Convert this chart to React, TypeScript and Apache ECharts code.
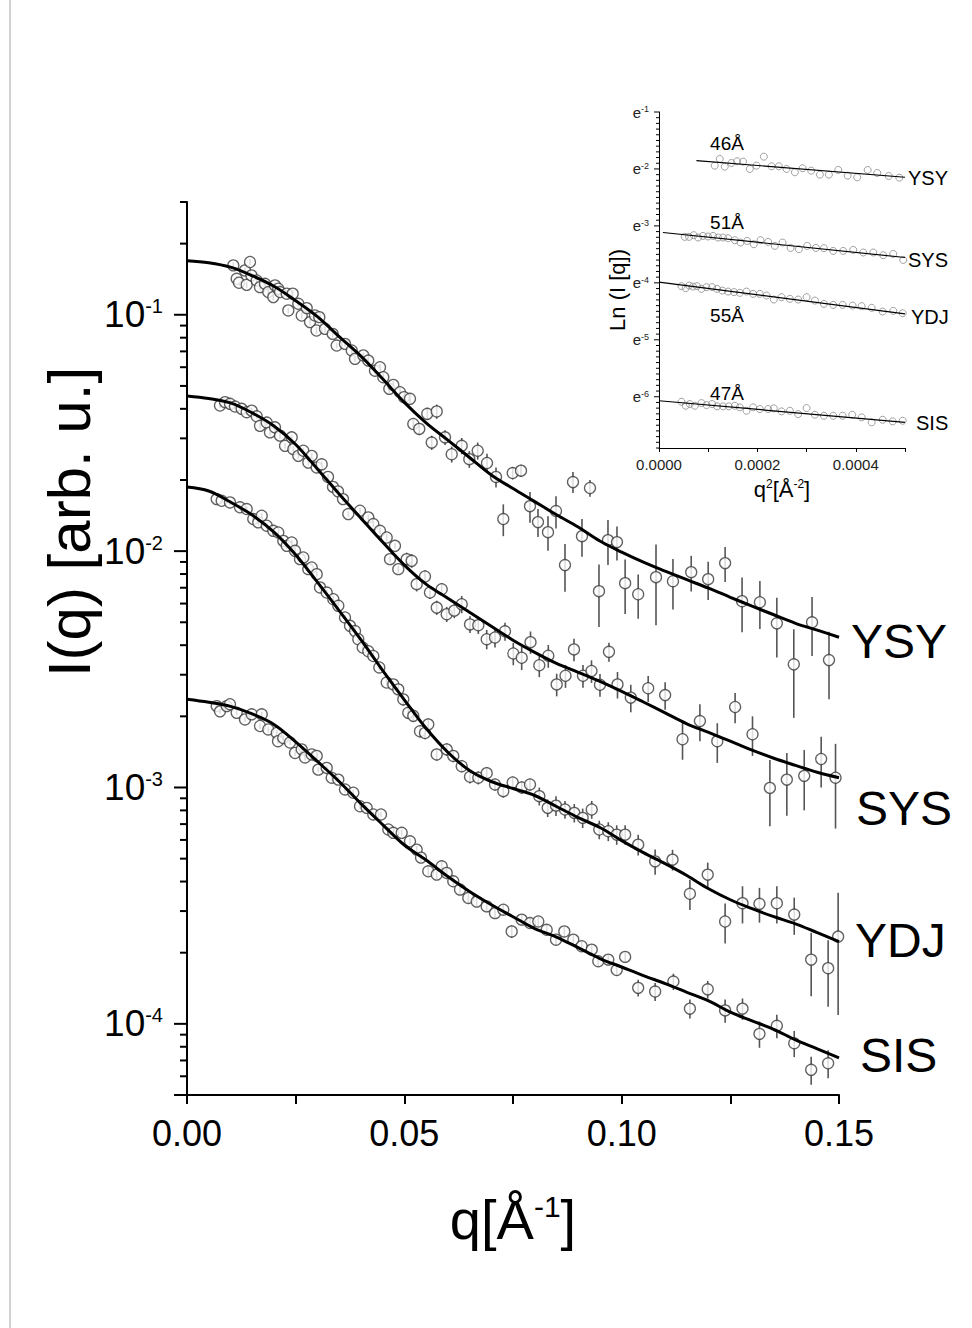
import React, { useEffect, useRef } from 'react';
import * as echarts from 'echarts';

const FONT = '"Liberation Sans", Arial, Helvetica, sans-serif';

// ---------- main plot: fitted curves (q in 1/Å, I in arb. u.) ----------
const fitQ = [0, 0.005, 0.01, 0.015, 0.02, 0.025, 0.03, 0.035, 0.04, 0.045, 0.05, 0.055, 0.06, 0.065, 0.07, 0.075, 0.08, 0.085, 0.09, 0.095, 0.1, 0.105, 0.11, 0.115, 0.12, 0.125, 0.13, 0.135, 0.14, 0.145, 0.15];
const ysyFit = [0.1694, 0.1661, 0.159, 0.1463, 0.132, 0.1147, 0.0982, 0.0809, 0.0668, 0.0536, 0.0426, 0.0349, 0.0295, 0.0249, 0.021, 0.0184, 0.0162, 0.01425, 0.01264, 0.01103, 0.0099, 0.00898, 0.00823, 0.00757, 0.00697, 0.00638, 0.00585, 0.00538, 0.00495, 0.00463, 0.00432];
const sysFit = [0.04537, 0.04427, 0.04236, 0.03843, 0.03385, 0.02827, 0.02226, 0.01744, 0.01379, 0.01092, 0.00873, 0.00725, 0.00632, 0.00551, 0.00481, 0.0042, 0.00373, 0.00335, 0.00307, 0.00281, 0.00255, 0.0023, 0.00207, 0.00186, 0.00171, 0.00157, 0.00144, 0.00133, 0.00124, 0.00116, 0.0011];
const ydjFit = [0.01866, 0.01796, 0.01613, 0.01421, 0.01204, 0.00966, 0.00739, 0.0056, 0.00422, 0.00313, 0.00235, 0.00178, 0.00141, 0.00118, 0.00106, 0.00099, 0.000925, 0.000831, 0.000746, 0.000677, 0.000596, 0.00053, 0.000476, 0.000424, 0.000373, 0.000335, 0.000307, 0.000284, 0.000265, 0.000243, 0.000223];
const sisFit = [0.00236, 0.002292, 0.002204, 0.002048, 0.001849, 0.001559, 0.001289, 0.00106, 0.000855, 0.000697, 0.000571, 0.000493, 0.00042, 0.000363, 0.000319, 0.000284, 0.000253, 0.000233, 0.00021, 0.000189, 0.000174, 0.00016, 0.000148, 0.000136, 0.000125, 0.000112, 0.000103, 0.0000948, 0.0000855, 0.0000784, 0.0000718];

// ---------- main plot: measured points [q, I, sigma] ----------
const ysyPoints = [
  [0.01065, 0.1618, 0.005], [0.01143, 0.142, 0.004], [0.01196, 0.1366, 0.004], [0.01334, 0.154, 0.005], [0.01373, 0.1339, 0.004],
  [0.0145, 0.1672, 0.005], [0.01484, 0.1467, 0.004], [0.01604, 0.1397, 0.004], [0.01679, 0.1309, 0.004], [0.01794, 0.1352, 0.004],
  [0.0187, 0.1248, 0.004], [0.01985, 0.1188, 0.004], [0.02024, 0.1331, 0.004], [0.021, 0.1289, 0.004], [0.0214, 0.1248, 0.004],
  [0.02294, 0.1228, 0.004], [0.02331, 0.1043, 0.003], [0.02432, 0.1228, 0.004], [0.02561, 0.1113, 0.003], [0.02639, 0.0993, 0.003],
  [0.02754, 0.1067, 0.003], [0.0283, 0.0931, 0.003], [0.02945, 0.0993, 0.003], [0.02979, 0.0858, 0.003], [0.03044, 0.0977, 0.003],
  [0.03175, 0.0872, 0.003], [0.03352, 0.083, 0.003], [0.03444, 0.0741, 0.002], [0.03635, 0.0753, 0.002], [0.0379, 0.0706, 0.002],
  [0.03865, 0.0651, 0.002], [0.04056, 0.0673, 0.002], [0.04171, 0.064, 0.002], [0.04325, 0.058, 0.002], [0.0444, 0.06, 0.002],
  [0.04516, 0.0544, 0.002], [0.04654, 0.0486, 0.002], [0.04746, 0.0505, 0.002], [0.049, 0.047, 0.002], [0.04992, 0.0448, 0.002],
  [0.0513, 0.0441, 0.002], [0.05206, 0.0345, 0.0017], [0.05344, 0.0329, 0.002], [0.05528, 0.0381, 0.0023], [0.0563, 0.0288, 0.002],
  [0.05745, 0.039, 0.0027], [0.05936, 0.0303, 0.0022], [0.0609, 0.0257, 0.002], [0.0632, 0.0279, 0.0022], [0.06495, 0.0245, 0.002],
  [0.06688, 0.0266, 0.0022], [0.06902, 0.0236, 0.0022], [0.07109, 0.0206, 0.002], [0.07277, 0.01367, 0.0021], [0.07493, 0.0214, 0.0013],
  [0.07684, 0.0219, 0.0013], [0.07891, 0.0155, 0.0023], [0.08075, 0.01327, 0.0018], [0.08305, 0.01203, 0.002], [0.08489, 0.01478, 0.0023],
  [0.08696, 0.00873, 0.002], [0.0888, 0.0196, 0.002], [0.09087, 0.01157, 0.0021], [0.09271, 0.0185, 0.0015], [0.09478, 0.00677, 0.002],
  [0.09685, 0.01113, 0.0024], [0.09892, 0.01092, 0.0018], [0.1008, 0.00732, 0.0019], [0.1038, 0.00657, 0.0014], [0.1079, 0.00776, 0.0029],
  [0.1118, 0.00746, 0.0018], [0.116, 0.00815, 0.0014], [0.1199, 0.00761, 0.0014], [0.1238, 0.0089, 0.0015], [0.1277, 0.00614, 0.0016],
  [0.1318, 0.00608, 0.0014], [0.1357, 0.00495, 0.0014], [0.1396, 0.00332, 0.00135], [0.1438, 0.005, 0.0014], [0.1477, 0.00346, 0.0011],
];
const sysPoints = [
  [0.00759, 0.0413, 0.001], [0.00874, 0.0427, 0.001], [0.00989, 0.042, 0.001], [0.01104, 0.0409, 0.001], [0.01258, 0.04, 0.001],
  [0.01373, 0.0387, 0.001], [0.01488, 0.0393, 0.001], [0.01604, 0.0372, 0.001], [0.01679, 0.0339, 0.001], [0.01834, 0.035, 0.001],
  [0.01909, 0.0318, 0.001], [0.02024, 0.0334, 0.001], [0.0214, 0.0308, 0.001], [0.02255, 0.0279, 0.0008], [0.02409, 0.0303, 0.0008],
  [0.02447, 0.027, 0.0008], [0.02561, 0.0253, 0.0008], [0.02676, 0.0266, 0.0008], [0.02791, 0.0237, 0.0007], [0.02869, 0.0253, 0.0007],
  [0.02984, 0.0226, 0.0007], [0.03099, 0.0233, 0.0007], [0.03244, 0.0206, 0.0006], [0.03359, 0.0187, 0.0006], [0.03474, 0.0179, 0.0005],
  [0.03589, 0.0166, 0.0005], [0.03711, 0.01435, 0.0004], [0.0398, 0.01482, 0.0004], [0.04171, 0.01389, 0.0004], [0.04286, 0.01302, 0.0004],
  [0.0444, 0.01219, 0.0004], [0.04594, 0.01142, 0.0004], [0.0467, 0.00925, 0.0003], [0.04785, 0.01053, 0.0003], [0.04861, 0.00839, 0.0003],
  [0.05054, 0.00925, 0.0006], [0.05169, 0.0091, 0.0006], [0.05284, 0.00725, 0.0005], [0.05475, 0.00781, 0.0005], [0.0559, 0.00668, 0.0004],
  [0.05745, 0.00577, 0.0004], [0.0586, 0.0069, 0.0004], [0.05975, 0.00541, 0.0004], [0.0615, 0.0056, 0.0004], [0.0632, 0.00596, 0.0005],
  [0.06511, 0.0049, 0.0004], [0.06702, 0.00486, 0.0004], [0.06895, 0.00424, 0.0004], [0.07086, 0.00431, 0.0004], [0.07316, 0.00458, 0.0004],
  [0.07507, 0.00369, 0.0004], [0.077, 0.00354, 0.0004], [0.07903, 0.00412, 0.00045], [0.08105, 0.00329, 0.00036], [0.08312, 0.00361, 0.0004],
  [0.08505, 0.00273, 0.0003], [0.08708, 0.00297, 0.00033], [0.08903, 0.00384, 0.00042], [0.0911, 0.00297, 0.00033], [0.09306, 0.00311, 0.00034],
  [0.09501, 0.00272, 0.0003], [0.09708, 0.00375, 0.00035], [0.09904, 0.00273, 0.00035], [0.1021, 0.0024, 0.00032], [0.1061, 0.00263, 0.00033],
  [0.11, 0.00246, 0.00033], [0.114, 0.0016, 0.00029], [0.118, 0.00191, 0.00034], [0.122, 0.00157, 0.0003], [0.1261, 0.00219, 0.00032],
  [0.1301, 0.00168, 0.00032], [0.1341, 0.000996, 0.00031], [0.138, 0.00108, 0.00032], [0.142, 0.00112, 0.00032], [0.1459, 0.00132, 0.00032],
  [0.1492, 0.0011, 0.00043],
];
const ydjPoints = [
  [0.00683, 0.0166, 0.0004], [0.00798, 0.01633, 0.0004], [0.00989, 0.01607, 0.0004], [0.01219, 0.01533, 0.0004], [0.01373, 0.01507, 0.0004],
  [0.01525, 0.01367, 0.0004], [0.0164, 0.01323, 0.0004], [0.01719, 0.01412, 0.0004], [0.01834, 0.01281, 0.0004], [0.01985, 0.01219, 0.0003],
  [0.021, 0.01199, 0.0003], [0.02216, 0.01105, 0.0003], [0.02294, 0.01053, 0.0003], [0.02409, 0.01088, 0.0003], [0.02485, 0.01003, 0.0003],
  [0.026, 0.00925, 0.0003], [0.02676, 0.0094, 0.0003], [0.02791, 0.00839, 0.0003], [0.02869, 0.00853, 0.0003], [0.02984, 0.00799, 0.0002],
  [0.0306, 0.00702, 0.0002], [0.03214, 0.00668, 0.0002], [0.03366, 0.00626, 0.0002], [0.03481, 0.00587, 0.0002], [0.03635, 0.00524, 0.00015],
  [0.0375, 0.00483, 0.00015], [0.03865, 0.00459, 0.00015], [0.03941, 0.00424, 0.00013], [0.04042, 0.00391, 0.00012], [0.04171, 0.00377, 0.00012],
  [0.04286, 0.0036, 0.00011], [0.04424, 0.00322, 0.0001], [0.04594, 0.00278, 0.00009], [0.04746, 0.00273, 0.00009], [0.04861, 0.0026, 0.00008],
  [0.04976, 0.00236, 0.00014], [0.05091, 0.00207, 0.00012], [0.05206, 0.00201, 0.00012], [0.0536, 0.00173, 0.0001], [0.05475, 0.0017, 0.0001],
  [0.05551, 0.00185, 0.00011], [0.05745, 0.00138, 0.00008], [0.05975, 0.00145, 0.00009], [0.06126, 0.00136, 0.00008], [0.0632, 0.00123, 0.00007],
  [0.06511, 0.00111, 0.00007], [0.06702, 0.0011, 0.00007], [0.06895, 0.00115, 0.00007], [0.07086, 0.00103, 0.00006], [0.07277, 0.000965, 0.00006],
  [0.07493, 0.00105, 0.00006], [0.077, 0.001, 0.00006], [0.07891, 0.00103, 0.00006], [0.08105, 0.000919, 0.00008], [0.08298, 0.00082, 0.00007],
  [0.08489, 0.000838, 0.00008], [0.08696, 0.000807, 0.00007], [0.0891, 0.000781, 0.00007], [0.09103, 0.000744, 0.00007], [0.09311, 0.000807, 0.00007],
  [0.09485, 0.000664, 0.00006], [0.09692, 0.000653, 0.00006], [0.09886, 0.000632, 0.00006], [0.1008, 0.000632, 0.00006], [0.1038, 0.000573, 0.000058],
  [0.1077, 0.000487, 0.00006], [0.1117, 0.000495, 0.00005], [0.1157, 0.000355, 0.000052], [0.1198, 0.000428, 0.000053], [0.1238, 0.000271, 0.000052],
  [0.1278, 0.000324, 0.000058], [0.1317, 0.000322, 0.000054], [0.1357, 0.000324, 0.000058], [0.1397, 0.00029, 0.000052], [0.1436, 0.000187, 0.000056],
  [0.1475, 0.000172, 0.000054], [0.1498, 0.000234, 0.000125],
];
const sisPoints = [
  [0.00683, 0.00221, 0.00005], [0.00759, 0.0021, 0.00005], [0.00913, 0.00221, 0.00005], [0.00989, 0.00225, 0.00005], [0.01143, 0.00207, 0.00005],
  [0.01334, 0.00194, 0.00005], [0.01488, 0.00204, 0.00005], [0.01679, 0.00182, 0.00005], [0.01719, 0.00204, 0.00005], [0.0187, 0.00176, 0.00005],
  [0.02064, 0.0017, 0.00005], [0.02094, 0.00157, 0.00004], [0.02215, 0.00162, 0.00004], [0.0237, 0.00155, 0.00004], [0.02485, 0.0014, 0.00004],
  [0.02639, 0.00145, 0.00004], [0.02715, 0.00134, 0.00004], [0.02869, 0.00138, 0.00004], [0.02984, 0.00136, 0.00004], [0.03021, 0.00119, 0.00003],
  [0.03214, 0.00121, 0.00003], [0.03329, 0.0011, 0.00003], [0.03481, 0.00108, 0.00003], [0.03635, 0.000981, 0.00003], [0.03826, 0.00095, 0.00003],
  [0.0398, 0.000833, 0.00002], [0.04134, 0.00082, 0.00002], [0.04286, 0.000769, 0.00002], [0.04463, 0.000769, 0.00002], [0.04631, 0.000664, 0.00002],
  [0.04746, 0.000643, 0.00002], [0.04939, 0.000643, 0.00002], [0.0513, 0.000592, 0.00002], [0.05284, 0.000546, 0.00002], [0.05383, 0.000505, 0.00002],
  [0.05551, 0.000442, 0.00002], [0.05745, 0.000428, 0.00002], [0.0586, 0.000464, 0.00002], [0.05975, 0.000435, 0.00002], [0.06126, 0.000401, 0.00002],
  [0.06281, 0.00037, 0.000018], [0.06472, 0.000341, 0.000017], [0.06665, 0.000329, 0.000016], [0.06895, 0.000314, 0.000016], [0.07086, 0.000294, 0.000015],
  [0.07277, 0.000304, 0.000015], [0.0747, 0.000246, 0.000015], [0.077, 0.000276, 0.000014], [0.07891, 0.000267, 0.000013], [0.08082, 0.000271, 0.000014],
  [0.08275, 0.00025, 0.000013], [0.08489, 0.000227, 0.000011], [0.0868, 0.000246, 0.000012], [0.08887, 0.000227, 0.000011], [0.0908, 0.000213, 0.000011],
  [0.09311, 0.000206, 0.00001], [0.09462, 0.000184, 0.00001], [0.09692, 0.000187, 0.00001], [0.09886, 0.000169, 0.000009], [0.1008, 0.000192, 0.00001],
  [0.1038, 0.000142, 0.0000115], [0.1077, 0.000137, 0.000012], [0.1119, 0.000151, 0.000012], [0.1157, 0.000116, 0.0000107], [0.1198, 0.00014, 0.000012],
  [0.1238, 0.000114, 0.0000129], [0.1278, 0.000116, 0.000012], [0.1317, 0.0000907, 0.0000115], [0.1357, 0.0000981, 0.0000111], [0.1397, 0.0000828, 0.0000105],
  [0.1436, 0.0000639, 0.0000086], [0.1475, 0.0000681, 0.0000092],
];

// ---------- inset: Guinier plot [q^2, ln I] ----------
const insetYsyPoints = [[0.0001133, -1.942], [0.0001235, -1.824], [0.0001337, -1.96], [0.0001473, -1.895], [0.0001587, -1.865], [0.0001709, -1.872], [0.0001846, -2.0], [0.0001982, -1.942], [0.0002131, -1.784], [0.0002287, -1.953], [0.0002436, -1.953], [0.0002593, -2.0], [0.0002762, -2.058], [0.0002918, -1.988], [0.0003093, -2.03], [0.000327, -2.1], [0.0003453, -2.1], [0.0003643, -2.018], [0.0003834, -2.118], [0.0004029, -2.146], [0.0004241, -2.018], [0.0004436, -2.07], [0.0004668, -2.123], [0.0004884, -2.153]];
const insetSysPoints = [[0.0000523, -3.193], [0.0000611, -3.193], [0.0000706, -3.163], [0.0000794, -3.204], [0.0000895, -3.176], [0.0000997, -3.186], [0.0001099, -3.176], [0.0001201, -3.204], [0.0001302, -3.204], [0.0001404, -3.216], [0.0001541, -3.251], [0.0001656, -3.292], [0.0001791, -3.264], [0.0001927, -3.322], [0.0002063, -3.251], [0.0002218, -3.281], [0.0002355, -3.351], [0.0002511, -3.292], [0.0002674, -3.387], [0.0002843, -3.409], [0.0003012, -3.351], [0.0003189, -3.387], [0.0003352, -3.392], [0.0003541, -3.439], [0.0003744, -3.439], [0.0003948, -3.422], [0.0004151, -3.467], [0.0004355, -3.467], [0.0004558, -3.515], [0.0004762, -3.492], [0.0004965, -3.598]];
const insetYdjPoints = [[0.0000456, -4.058], [0.0000543, -4.093], [0.0000611, -4.047], [0.0000692, -4.065], [0.0000773, -4.058], [0.0000863, -4.105], [0.0000965, -4.076], [0.0001079, -4.076], [0.000118, -4.105], [0.000129, -4.135], [0.0001404, -4.153], [0.0001526, -4.163], [0.0001642, -4.176], [0.0001779, -4.153], [0.0001913, -4.193], [0.0002049, -4.193], [0.0002186, -4.223], [0.0002334, -4.293], [0.0002491, -4.251], [0.000266, -4.281], [0.0002829, -4.293], [0.0003, -4.251], [0.0003169, -4.311], [0.0003352, -4.369], [0.0003541, -4.387], [0.0003732, -4.387], [0.0003936, -4.399], [0.0004119, -4.409], [0.0004322, -4.439], [0.0004546, -4.504], [0.0004762, -4.492], [0.0004953, -4.533]];
const insetSisPoints = [[0.0000456, -6.088], [0.0000543, -6.158], [0.0000625, -6.128], [0.0000727, -6.158], [0.0000863, -6.111], [0.0000965, -6.146], [0.0001079, -6.128], [0.000118, -6.169], [0.0001302, -6.169], [0.0001418, -6.169], [0.0001541, -6.158], [0.0001642, -6.186], [0.0001779, -6.246], [0.0001913, -6.186], [0.0002049, -6.216], [0.0002218, -6.216], [0.0002334, -6.204], [0.0002491, -6.257], [0.000266, -6.246], [0.0002829, -6.304], [0.0003, -6.199], [0.0003169, -6.316], [0.0003352, -6.334], [0.0003541, -6.334], [0.0003732, -6.334], [0.0003928, -6.316], [0.0004119, -6.362], [0.0004322, -6.45], [0.0004546, -6.404], [0.000475, -6.432], [0.0004953, -6.422]];
const insetYsyFit = [[0.0000761, -1.854], [0.0005, -2.146]];
const insetSysFit = [[0.000008, -3.116], [0.0005, -3.555]];
const insetYdjFit = [[0.0, -3.988], [0.0005, -4.545]];
const insetSisFit = [[0.0, -6.07], [0.0005, -6.45]];

const sampleNames = ['YSY', 'SYS', 'YDJ', 'SIS'];
const radiusLabels = ['46Å', '51Å', '55Å', '47Å'];

// axis tick definitions
const mainYMin = 5e-5;
const mainYMax = 0.3;
const mainMajorTicks = [5e-5, 1e-4, 1e-3, 1e-2, 1e-1];
const mainMinorMantissas = [2, 3, 4, 5, 6, 7, 8, 9];
const mainDecades = [-5, -4, -3, -2, -1];
const insetYMin = -6.9;
const insetYMax = -1;
const insetMajorTicks = [-6, -5, -4, -3, -2, -1];

function buildMainTicks() {
  const out: number[][] = mainMajorTicks.map((v) => [0, v, 1]);
  mainDecades.forEach((e) => {
    mainMinorMantissas.forEach((m) => {
      const v = m * Math.pow(10, e);
      if (v > mainYMin * 1.001 && v <= mainYMax * 1.001) out.push([0, v, 0]);
    });
  });
  return out;
}
function buildInsetTicks() {
  const out: number[][] = insetMajorTicks.map((v) => [0, v, 1]);
  for (let i = -69; i <= -10; i++) {
    if (i % 10 !== 0) out.push([0, i / 10, 0]);
  }
  return out;
}

export default function App() {
  const ref = useRef<HTMLDivElement>(null);
  useEffect(() => {
    if (!ref.current) return;
    const chart = echarts.init(ref.current, undefined, { renderer: 'svg' });

    const pointSets = [ysyPoints, sysPoints, ydjPoints, sisPoints];
    const fitSets = [ysyFit, sysFit, ydjFit, sisFit];
    const insetPointSets = [insetYsyPoints, insetSysPoints, insetYdjPoints, insetSisPoints];
    const insetFitSets = [insetYsyFit, insetSysFit, insetYdjFit, insetSisFit];

    const series: any[] = [];
    pointSets.forEach((pts, i) => {
      series.push({
        type: 'custom',
        name: sampleNames[i] + ' err',
        xAxisIndex: 0,
        yAxisIndex: 0,
        data: pts,
        encode: { x: 0, y: 1 },
        z: 2,
        silent: true,
        renderItem: (params: any, api: any) => {
          const q = api.value(0);
          const v = api.value(1);
          const s = api.value(2);
          const top = api.coord([q, Math.min(v + s, mainYMax)]);
          const bot = api.coord([q, Math.max(v - s, mainYMin)]);
          return {
            type: 'line',
            shape: { x1: top[0], y1: top[1], x2: bot[0], y2: bot[1] },
            style: { stroke: '#555', lineWidth: 1.6 },
          };
        },
      });
      series.push({
        type: 'scatter',
        name: sampleNames[i],
        xAxisIndex: 0,
        yAxisIndex: 0,
        data: pts.map((p) => [p[0], p[1]]),
        symbol: 'circle',
        symbolSize: 11,
        itemStyle: { color: '#fff', borderColor: '#3a3a3a', borderWidth: 1.3 },
        z: 3,
        silent: true,
      });
      series.push({
        type: 'line',
        name: sampleNames[i] + ' fit',
        xAxisIndex: 0,
        yAxisIndex: 0,
        data: fitQ.map((q, k) => [q, fitSets[i][k]]),
        showSymbol: false,
        symbol: 'none',
        smooth: 0.35,
        lineStyle: { color: '#000', width: 3 },
        z: 4,
        silent: true,
      });
    });

    series.push({
      type: 'custom',
      name: 'main y ticks',
      xAxisIndex: 0,
      yAxisIndex: 0,
      data: buildMainTicks(),
      encode: { x: 0, y: 1 },
      clip: false,
      silent: true,
      z: 5,
      renderItem: (params: any, api: any) => {
        const p = api.coord([0, api.value(1)]);
        const len = api.value(2) ? 13 : 7;
        return {
          type: 'line',
          shape: { x1: p[0] - len, y1: p[1], x2: p[0], y2: p[1] },
          style: { stroke: '#000', lineWidth: 2 },
        };
      },
    });

    insetPointSets.forEach((pts, i) => {
      series.push({
        type: 'scatter',
        name: sampleNames[i] + ' guinier',
        xAxisIndex: 1,
        yAxisIndex: 1,
        data: pts,
        symbol: 'circle',
        symbolSize: 7,
        itemStyle: { color: 'rgba(255,255,255,0)', borderColor: '#8a8a8a', borderWidth: 1 },
        z: 3,
        silent: true,
      });
      series.push({
        type: 'line',
        name: sampleNames[i] + ' guinier fit',
        xAxisIndex: 1,
        yAxisIndex: 1,
        data: insetFitSets[i],
        showSymbol: false,
        symbol: 'none',
        lineStyle: { color: '#000', width: 1.2 },
        z: 4,
        silent: true,
      });
    });

    series.push({
      type: 'custom',
      name: 'inset y ticks',
      xAxisIndex: 1,
      yAxisIndex: 1,
      data: buildInsetTicks(),
      encode: { x: 0, y: 1 },
      clip: false,
      silent: true,
      z: 5,
      renderItem: (params: any, api: any) => {
        const p = api.coord([0, api.value(1)]);
        const len = api.value(2) ? 5 : 3;
        return {
          type: 'line',
          shape: { x1: p[0] - len, y1: p[1], x2: p[0], y2: p[1] },
          style: { stroke: '#000', lineWidth: 1 },
        };
      },
    });

    const mainLabelPos = [
      { x: 851, y: 641 },
      { x: 856, y: 808 },
      { x: 855, y: 940 },
      { x: 860, y: 1055 },
    ];
    const insetRightPos = [
      { x: 908, y: 178 },
      { x: 908, y: 260 },
      { x: 911, y: 317 },
      { x: 916, y: 423 },
    ];
    const insetRadiusPos = [
      { x: 727, y: 143 },
      { x: 727, y: 222 },
      { x: 727, y: 315 },
      { x: 727, y: 393 },
    ];

    const graphic: any[] = [
      {
        type: 'line',
        shape: { x1: 10, y1: 0, x2: 10, y2: 1328 },
        style: { stroke: '#d2d2d2', lineWidth: 2 },
        silent: true,
      },
      {
        type: 'text',
        x: 69,
        y: 522,
        rotation: Math.PI / 2,
        style: {
          text: 'I(q) [arb. u.]',
          fontSize: 60,
          fontFamily: FONT,
          fill: '#000',
          align: 'center',
          verticalAlign: 'middle',
        },
        silent: true,
      },
      {
        type: 'text',
        x: 617,
        y: 290,
        rotation: Math.PI / 2,
        style: {
          text: 'Ln (I [q])',
          fontSize: 22,
          fontFamily: FONT,
          fill: '#000',
          align: 'center',
          verticalAlign: 'middle',
        },
        silent: true,
      },
    ];
    sampleNames.forEach((n, i) => {
      graphic.push({
        type: 'text',
        x: mainLabelPos[i].x,
        y: mainLabelPos[i].y,
        style: { text: n, fontSize: 48, fontFamily: FONT, fill: '#000', align: 'left', verticalAlign: 'middle' },
        silent: true,
      });
      graphic.push({
        type: 'text',
        x: insetRightPos[i].x,
        y: insetRightPos[i].y,
        style: { text: n, fontSize: 20, fontFamily: FONT, fill: '#000', align: 'left', verticalAlign: 'middle' },
        silent: true,
      });
      graphic.push({
        type: 'text',
        x: insetRadiusPos[i].x,
        y: insetRadiusPos[i].y,
        style: { text: radiusLabels[i], fontSize: 19, fontFamily: FONT, fill: '#000', align: 'center', verticalAlign: 'middle' },
        silent: true,
      });
    });

    const option: any = {
      animation: false,
      backgroundColor: '#fff',
      textStyle: { fontFamily: FONT },
      grid: [
        { left: 187, top: 202, width: 652, height: 893, containLabel: false },
        { left: 659, top: 112, width: 246, height: 336, containLabel: false },
      ],
      xAxis: [
        {
          type: 'value',
          gridIndex: 0,
          min: 0,
          max: 0.15,
          interval: 0.025,
          axisLine: { show: true, onZero: false, lineStyle: { color: '#000', width: 2 } },
          axisTick: { show: true, inside: false, length: 9, lineStyle: { color: '#000', width: 2 } },
          splitLine: { show: false },
          axisLabel: {
            margin: 20,
            fontSize: 36,
            color: '#000',
            fontFamily: FONT,
            formatter: (v: number) => {
              const k = Math.round(v / 0.05);
              return Math.abs(v - k * 0.05) < 1e-9 ? v.toFixed(2) : '';
            },
          },
          name: 'q[Å{sup|-1}]',
          nameLocation: 'middle',
          nameGap: 96,
          nameTextStyle: {
            fontSize: 56,
            color: '#000',
            fontFamily: FONT,
            rich: { sup: { fontSize: 30, verticalAlign: 'top', color: '#000', fontFamily: FONT } },
          },
        },
        {
          type: 'value',
          gridIndex: 1,
          min: 0,
          max: 0.0005,
          interval: 0.0001,
          axisLine: { show: true, onZero: false, lineStyle: { color: '#000', width: 1 } },
          axisTick: { show: true, inside: false, length: 4, lineStyle: { color: '#000', width: 1 } },
          splitLine: { show: false },
          axisLabel: {
            margin: 9,
            fontSize: 15,
            color: '#222',
            fontFamily: FONT,
            formatter: (v: number) => {
              const k = Math.round(v / 0.0002);
              return Math.abs(v - k * 0.0002) < 1e-10 ? v.toFixed(4) : '';
            },
          },
          name: 'q{sup|2}[Å{sup|-2}]',
          nameLocation: 'middle',
          nameGap: 30,
          nameTextStyle: {
            fontSize: 22,
            color: '#000',
            fontFamily: FONT,
            rich: { sup: { fontSize: 12, verticalAlign: 'top', color: '#000', fontFamily: FONT } },
          },
        },
      ],
      yAxis: [
        {
          type: 'log',
          logBase: 10,
          gridIndex: 0,
          min: mainYMin,
          max: mainYMax,
          axisLine: { show: true, onZero: false, lineStyle: { color: '#000', width: 2 } },
          axisTick: { show: false },
          splitLine: { show: false },
          axisLabel: {
            margin: 24,
            fontSize: 37,
            color: '#000',
            fontFamily: FONT,
            formatter: (v: number) => {
              const e = Math.log10(v);
              const r = Math.round(e);
              if (Math.abs(e - r) > 1e-6) return '';
              return '10{sup|' + r + '}';
            },
            rich: { sup: { fontSize: 20, verticalAlign: 'top', color: '#000', fontFamily: FONT } },
          },
        },
        {
          type: 'value',
          gridIndex: 1,
          min: insetYMin,
          max: insetYMax,
          axisLine: { show: true, onZero: false, lineStyle: { color: '#000', width: 1 } },
          axisTick: { show: false },
          splitLine: { show: false },
          axisLabel: {
            margin: 10,
            fontSize: 15,
            color: '#222',
            fontFamily: FONT,
            formatter: (v: number) => {
              const r = Math.round(v);
              if (Math.abs(v - r) > 1e-6) return '';
              return 'e{sup|' + r + '}';
            },
            rich: { sup: { fontSize: 9, verticalAlign: 'top', color: '#222', fontFamily: FONT } },
          },
        },
      ],
      series,
      graphic,
    };
    chart.setOption(option);
    return () => chart.dispose();
  }, []);
  return (
    <div
      ref={ref}
      style={{ position: 'fixed', left: 0, top: 0, width: 972, height: 1328, background: '#fff' }}
    />
  );
}
